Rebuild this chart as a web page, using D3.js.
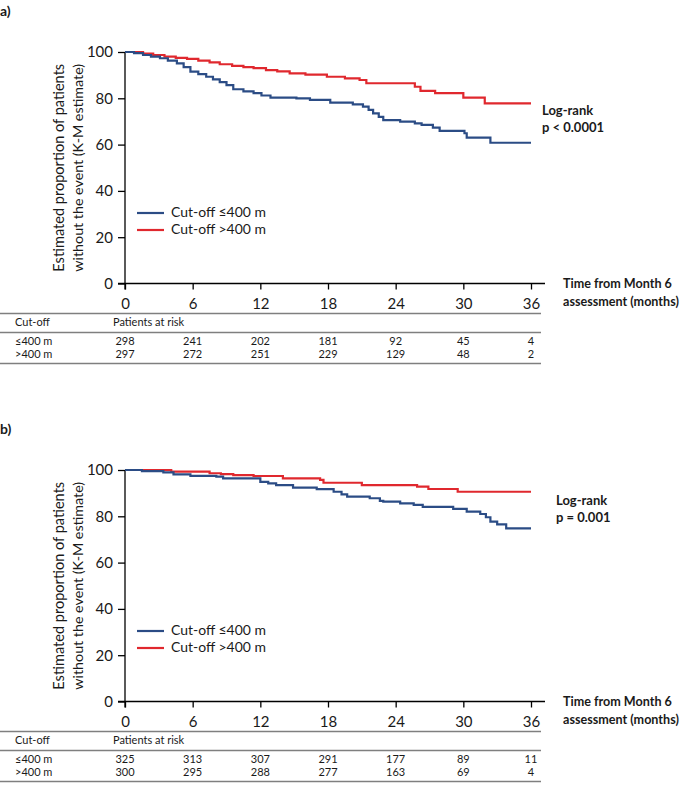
<!DOCTYPE html>
<html>
<head>
<meta charset="utf-8">
<script src="https://cdn.jsdelivr.net/npm/d3@7"></script>
<style>
  html, body { margin: 0; padding: 0; background: #fff; }
  svg { display: block; font-family: Lato, "Open Sans", sans-serif; }
</style>
</head>
<body>
<svg id="chart" width="681" height="786"></svg>
<script>
// ---------------- DATA ----------------
const X_TICKS = [0, 6, 12, 18, 24, 30, 36];
const Y_TICKS = [0, 20, 40, 60, 80, 100];
const GROUPS = ["≤400 m", ">400 m"];
const LEGEND_LABELS = ["Cut-off ≤400 m", "Cut-off >400 m"];

// Panel a) Kaplan-Meier step points (months, % without event)
const aBlueTime = [0, 0.8, 1.6, 2.3, 3.1, 3.8, 4.6, 5.2, 5.8, 6.5, 7.2, 7.8, 8.4, 9.0, 9.6, 10.5, 11.4, 12.1, 12.9, 15.2, 16.4, 18.2, 20.2, 21.1, 21.6, 22.0, 22.5, 22.9, 24.4, 25.7, 26.3, 27.3, 27.9, 30.1, 30.3, 32.4, 36];
const aBlueSurv = [100, 99.5, 98.7, 98.0, 97.3, 96.3, 95.1, 93.5, 91.5, 90.4, 89.3, 88.2, 87.0, 85.7, 83.9, 83.0, 82.2, 81.2, 80.3, 80.0, 79.3, 78.1, 77.4, 76.4, 75.0, 73.5, 72.0, 70.6, 69.9, 69.2, 68.5, 67.3, 65.9, 64.9, 63.0, 60.8, 60.8];
const aRedTime = [0, 1.6, 2.5, 3.5, 4.5, 5.5, 6.5, 7.5, 8.4, 9.5, 10.5, 11.4, 12.5, 13.5, 14.6, 16.0, 17.9, 19.5, 20.8, 21.4, 25.7, 26.2, 27.5, 30.0, 31.9, 36];
const aRedSurv = [100, 99.3, 98.7, 98.0, 97.5, 97.0, 96.3, 95.5, 94.7, 94.0, 93.5, 93.0, 92.2, 91.6, 90.8, 90.2, 89.3, 88.6, 87.9, 86.5, 85.0, 83.2, 82.2, 80.3, 77.8, 77.8];

// Panel b)
const bBlueTime = [0, 1.5, 3.4, 4.3, 5.8, 8.1, 8.7, 12.0, 12.7, 13.4, 14.9, 17.0, 18.5, 19.2, 19.7, 21.7, 22.6, 22.9, 24.4, 25.6, 26.4, 29.1, 30.3, 31.5, 32.0, 32.4, 33.0, 33.8, 36];
const bBlueSurv = [100, 99.5, 99.0, 98.1, 97.5, 97.1, 96.4, 94.9, 94.2, 93.5, 92.4, 91.7, 90.6, 89.5, 88.5, 87.8, 86.7, 86.3, 85.6, 84.9, 84.1, 83.2, 82.0, 81.0, 79.6, 77.7, 76.5, 74.8, 74.8];
const bRedTime = [0, 4.1, 7.5, 8.5, 9.6, 11.4, 14.0, 17.3, 17.6, 21.0, 25.9, 26.9, 29.5, 36];
const bRedSurv = [100, 99.3, 98.6, 98.2, 97.8, 97.4, 96.4, 95.7, 94.5, 93.5, 92.8, 91.8, 90.6, 90.6];

// Patients at risk
const riskA_le400 = [298, 241, 202, 181, 92, 45, 4];
const riskA_gt400 = [297, 272, 251, 229, 129, 48, 2];
const riskB_le400 = [325, 313, 307, 291, 177, 89, 11];
const riskB_gt400 = [300, 295, 288, 277, 163, 69, 4];

const PANEL_LABELS = ["a)", "b)"];
const LOGRANK_P = ["p < 0.0001", "p = 0.001"];

// ---------------- STYLE ----------------
const BLUE = "#2b4c85";
const RED = "#e0282e";
const TXT = "#1a1a1a";

const svg = d3.select("#chart");

function zip(t, s) { return t.map((d, i) => [d, s[i]]); }

function fitText(sel, width) {
  const n = sel.node();
  const fs = parseFloat(sel.attr("font-size"));
  const w = n.getComputedTextLength();
  if (w > 0) sel.attr("font-size", (fs * width / w).toFixed(2));
}

function drawPanel(cfg) {
  const g = svg.append("g").attr("transform", `translate(0,${cfg.dy})`);
  const x = d3.scaleLinear().domain([0, 36]).range([125, 531]);
  const y = d3.scaleLinear().domain([0, 100]).range([283.5, 52]);

  // panel label
  g.append("text").attr("x", 0).attr("y", 16)
    .attr("font-size", 14).attr("font-weight", "bold").attr("fill", TXT)
    .text(cfg.label);

  // y axis
  const ya = g.append("g").attr("transform", `translate(${x(0)},0)`)
    .call(d3.axisLeft(y).tickValues(Y_TICKS).tickSize(7).tickPadding(5).tickSizeOuter(0));
  ya.select(".domain").remove();
  ya.selectAll(".tick line").attr("stroke", "#000").attr("stroke-width", 1.3);
  ya.selectAll(".tick text").attr("font-size", 15).attr("fill", TXT)
    .attr("font-family", "Lato, sans-serif");
  g.append("line").attr("x1", x(0)).attr("x2", x(0))
    .attr("y1", y(100)).attr("y2", y(0) + 6)
    .attr("stroke", "#000").attr("stroke-width", 1.3);

  // x axis
  const xa = g.append("g").attr("transform", `translate(0,${y(0)})`)
    .call(d3.axisBottom(x).tickValues(X_TICKS).tickSize(6).tickSizeOuter(0));
  xa.select(".domain").remove();
  xa.selectAll(".tick line").attr("stroke", "#000").attr("stroke-width", 1.3);
  xa.selectAll(".tick text").attr("font-size", 15).attr("fill", TXT)
    .attr("font-family", "Lato, sans-serif")
    .attr("y", 20).attr("dy", "0.35em");
  g.append("line").attr("x1", x(0) - 7).attr("x2", 545)
    .attr("y1", y(0)).attr("y2", y(0))
    .attr("stroke", "#000").attr("stroke-width", 1.3);

  // y axis title
  const yt = g.append("g").attr("transform", `translate(0,${(y(0) + y(100)) / 2})`);
  const l1 = yt.append("text").attr("transform", "translate(60,0) rotate(-90)")
    .attr("text-anchor", "middle").attr("dominant-baseline", "middle")
    .attr("font-size", 14.5).attr("fill", TXT)
    .text("Estimated proportion of patients");
  fitText(l1, 208);
  const l2 = yt.append("text").attr("transform", "translate(79,0) rotate(-90)")
    .attr("text-anchor", "middle").attr("dominant-baseline", "middle")
    .attr("font-size", 14.5).attr("fill", TXT)
    .text("without the event (K-M estimate)");
  fitText(l2, 208);

  // x axis title
  const xt1 = g.append("text").attr("x", 563).attr("y", y(0) + 1).attr("dominant-baseline", "middle")
    .attr("font-size", 13).attr("font-weight", "bold").attr("fill", TXT)
    .text("Time from Month 6");
  const xt2 = g.append("text").attr("x", 563).attr("y", y(0) + 19).attr("dominant-baseline", "middle")
    .attr("font-size", 13).attr("font-weight", "bold").attr("fill", TXT)
    .text("assessment (months)");
  fitText(xt2, 116);
  xt1.attr("font-size", xt2.attr("font-size"));

  // curves
  const line = d3.line().x(d => x(d[0])).y(d => y(d[1])).curve(d3.curveStepAfter);
  g.append("path").datum(zip(cfg.redT, cfg.redS)).attr("d", line)
    .attr("fill", "none").attr("stroke", RED).attr("stroke-width", 2.2);
  g.append("path").datum(zip(cfg.blueT, cfg.blueS)).attr("d", line)
    .attr("fill", "none").attr("stroke", BLUE).attr("stroke-width", 2.2);

  // log-rank
  g.append("text").attr("x", cfg.lrx).attr("y", cfg.lry).attr("dominant-baseline", "middle")
    .attr("font-size", 13).attr("font-weight", "bold").attr("fill", TXT).text("Log-rank");
  g.append("text").attr("x", cfg.lrx).attr("y", cfg.lry + 17).attr("dominant-baseline", "middle")
    .attr("font-size", 13).attr("font-weight", "bold").attr("fill", TXT).text(cfg.p);

  // legend
  const lg = g.append("g");
  [BLUE, RED].forEach((c, i) => {
    const ly = cfg.legY + i * 17;
    lg.append("line").attr("x1", 137).attr("x2", 164).attr("y1", ly).attr("y2", ly)
      .attr("stroke", c).attr("stroke-width", 2.2);
    const t = lg.append("text").attr("x", 171).attr("y", ly).attr("dominant-baseline", "middle")
      .attr("font-size", 15).attr("fill", TXT).text(LEGEND_LABELS[i]);
    fitText(t, 95);
  });

  // risk table
  const base = y(0);
  const tl = g.append("g");
  [base + 30, base + 49, base + 80].forEach(ly => {
    tl.append("line").attr("x1", 0).attr("x2", 541).attr("y1", ly).attr("y2", ly)
      .attr("stroke", "#7f7f7f").attr("stroke-width", 1.3);
  });
  tl.append("text").attr("x", 15).attr("y", base + 40).attr("dominant-baseline", "middle")
    .attr("font-size", 11).attr("fill", TXT).text("Cut-off");
  tl.append("text").attr("x", 113).attr("y", base + 40).attr("dominant-baseline", "middle")
    .attr("font-size", 11).attr("fill", TXT).text("Patients at risk");
  [cfg.riskLe, cfg.riskGt].forEach((row, r) => {
    const ry = base + 59 + r * 13;
    tl.append("text").attr("x", 15).attr("y", ry).attr("dominant-baseline", "middle")
      .attr("font-size", 11).attr("fill", TXT).text(GROUPS[r]);
    tl.selectAll(null).data(row).enter().append("text")
      .attr("x", (d, i) => x(X_TICKS[i])).attr("y", ry)
      .attr("text-anchor", "middle").attr("dominant-baseline", "middle")
      .attr("font-size", 11).attr("fill", TXT).text(d => d);
  });
}

drawPanel({
  dy: 0, label: PANEL_LABELS[0], p: LOGRANK_P[0], lrx: 542, lry: 112, legY: 213,
  blueT: aBlueTime, blueS: aBlueSurv, redT: aRedTime, redS: aRedSurv,
  riskLe: riskA_le400, riskGt: riskA_gt400
});
drawPanel({
  dy: 418, label: PANEL_LABELS[1], p: LOGRANK_P[1], lrx: 556, lry: 84, legY: 213,
  blueT: bBlueTime, blueS: bBlueSurv, redT: bRedTime, redS: bRedSurv,
  riskLe: riskB_le400, riskGt: riskB_gt400
});
</script>
</body>
</html>
